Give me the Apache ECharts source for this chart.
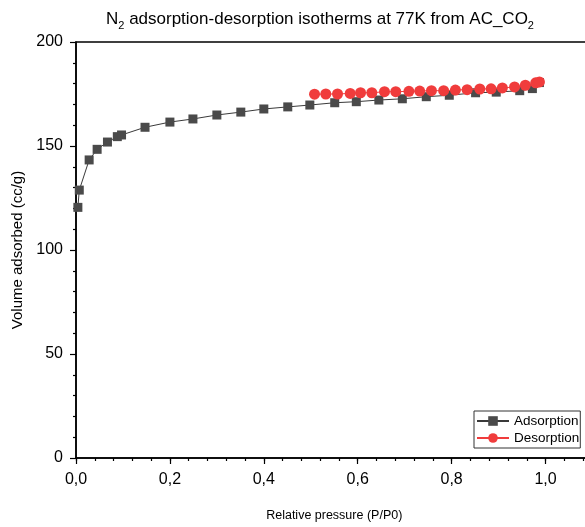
<!DOCTYPE html>
<html>
<head>
<meta charset="utf-8">
<script src="https://cdn.jsdelivr.net/npm/echarts@6/dist/echarts.min.js"></script>
<style>html,body{margin:0;padding:0;background:#fff;}#c{width:585px;height:527px;}</style>
</head>
<body>
<div id="c"></div>
<script>
const adsX = [0.004, 0.007, 0.028, 0.045, 0.067, 0.088, 0.097, 0.147, 0.200, 0.249, 0.300, 0.351, 0.400, 0.451, 0.498, 0.551, 0.597, 0.645, 0.695, 0.746, 0.795, 0.851, 0.895, 0.945, 0.972, 0.987];
const adsY = [120.5, 128.8, 143.3, 148.4, 151.9, 154.5, 155.3, 159.0, 161.5, 163.0, 164.9, 166.3, 167.8, 168.8, 169.7, 170.8, 171.3, 172.1, 172.7, 173.7, 174.4, 175.6, 175.9, 176.6, 177.6, 180.5];
const desX = [0.508, 0.532, 0.557, 0.584, 0.606, 0.630, 0.657, 0.681, 0.709, 0.732, 0.757, 0.783, 0.808, 0.833, 0.860, 0.884, 0.908, 0.934, 0.957, 0.979, 0.987];
const desY = [174.9, 175.0, 175.0, 175.3, 175.6, 175.6, 176.1, 176.1, 176.3, 176.4, 176.6, 176.6, 176.9, 177.1, 177.4, 177.5, 177.9, 178.4, 179.2, 180.4, 180.8];
const xMajorTicks = [0, 0.2, 0.4, 0.6, 0.8, 1.0];
const seriesNames = ['Adsorption', 'Desorption'];

const FONT = '"Liberation Sans", Arial, sans-serif';
const chart = echarts.init(document.getElementById('c'));
const zip = (xs, ys) => xs.map((x, i) => [x, ys[i]]);

chart.setOption({
  backgroundColor: '#fff',
  animation: false,
  title: {
    text: '{a|N}{s|2}{a| adsorption-desorption isotherms at 77K from AC_CO}{s|2}',
    left: 315, textAlign: 'center',
    top: 1,
    textStyle: {
      fontWeight: 'normal',
      rich: {
        a: { fontFamily: FONT, fontSize: 17, fontWeight: 'normal', color: '#000', verticalAlign: 'bottom', lineHeight: 22 },
        s: { fontFamily: FONT, fontSize: 11, fontWeight: 'normal', color: '#000', verticalAlign: 'bottom', lineHeight: 15, padding: [0, 0, -3, 0] }
      }
    }
  },
  grid: { left: 76, top: 42, width: 516.5, height: 416, show: true, borderColor: '#000', borderWidth: 1.5, containLabel: false, outerBoundsMode: 'none' },
  legend: {
    orient: 'vertical',
    left: 474, top: 411,
    padding: [3, 1, 3, 2],
    itemGap: 3,
    itemWidth: 32, itemHeight: 12,
    borderColor: '#333', borderWidth: 1,
    textStyle: { fontFamily: FONT, fontSize: 13.5, color: '#000' },
    data: seriesNames
  },
  xAxis: [
    {
      type: 'value', min: 0, max: 1.1, interval: 0.04,
      position: 'bottom',
      axisLine: { show: true, lineStyle: { color: '#000', width: 1.5 } },
      axisTick: { show: true, length: 3, lineStyle: { color: '#000', width: 1.2 } },
      axisLabel: { show: false },
      splitLine: { show: false }
    },
    {
      type: 'value', min: 0, max: 1.1, interval: 0.2,
      position: 'bottom',
      name: 'Relative pressure (P/P0)',
      nameLocation: 'middle', nameGap: 51,
      nameTextStyle: { fontFamily: FONT, fontSize: 12.5, color: '#000' },
      axisLine: { show: false },
      axisTick: { show: true, length: 6, customValues: xMajorTicks, lineStyle: { color: '#000', width: 1.2 } },
      axisLabel: {
        show: true, margin: 14, customValues: xMajorTicks,
        fontFamily: FONT, fontSize: 16, color: '#000',
        formatter: v => v.toFixed(1).replace('.', ',')
      },
      splitLine: { show: false }
    }
  ],
  yAxis: {
    type: 'value', min: 0, max: 200, interval: 50,
    name: 'Volume adsorbed (cc/g)',
    nameLocation: 'middle', nameGap: 49,
    nameTextStyle: { fontFamily: FONT, fontSize: 15, color: '#000' },
    axisLine: { show: true, lineStyle: { color: '#000', width: 1.5 } },
    axisTick: { show: true, length: 6, lineStyle: { color: '#000', width: 1.2 } },
    minorTick: { show: true, splitNumber: 5, length: 3, lineStyle: { color: '#000', width: 1.2 } },
    axisLabel: { margin: 13, fontFamily: FONT, fontSize: 16, color: '#000' },
    splitLine: { show: false }
  },
  series: [
    {
      name: seriesNames[0], type: 'line', xAxisIndex: 0,
      data: zip(adsX, adsY),
      symbol: 'rect', symbolSize: 9,
      itemStyle: { color: '#4a4a4a' },
      lineStyle: { color: '#3a3a3a', width: 1 },
      z: 2
    },
    {
      name: seriesNames[1], type: 'line', xAxisIndex: 0,
      data: zip(desX, desY),
      symbol: 'circle', symbolSize: 11,
      itemStyle: { color: '#f03c3c' },
      lineStyle: { color: '#f03c3c', width: 1 },
      z: 3
    }
  ]
});
</script>
</body>
</html>
